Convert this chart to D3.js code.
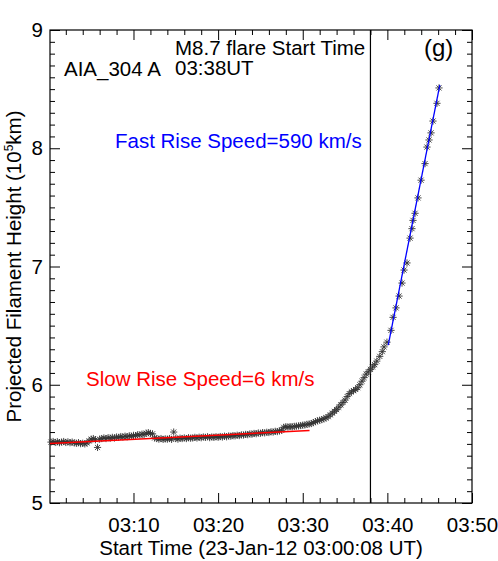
<!DOCTYPE html>
<html>
	<head>
		<title>Filament height</title>
		<script src="https://cdn.jsdelivr.net/npm/d3@7"></script>
		<style type="text/css">
			body {
				margin: 0;
				background: #fff;
			}
			text {
				font-family: "Liberation Sans", Arial, sans-serif;
				font-size: 20.5px;
			}
		</style>
	</head>
	<body>
		<script type="text/javascript">
			// minutes after 03:00 UT, height in 10^5 km
			var slowPhase = [
				[0.25,5.515],[0.5,5.52],[0.75,5.512],[1.0,5.518],[1.25,5.51],[1.5,5.515],[1.75,5.52],[2.0,5.512],
				[2.25,5.517],[2.5,5.51],[2.75,5.515],[3.0,5.508],[3.25,5.505],[3.5,5.51],[3.75,5.502],[4.0,5.505],
				[4.25,5.5],[4.5,5.508],[4.75,5.525],[5.0,5.54],[5.25,5.545],[5.5,5.535],[5.75,5.47],[6.0,5.54],
				[6.25,5.545],[6.5,5.55],[6.75,5.545],[7.0,5.552],[7.25,5.548],[7.5,5.555],[7.75,5.55],[8.0,5.558],
				[8.25,5.555],[8.5,5.562],[8.75,5.558],[9.0,5.565],[9.25,5.56],[9.5,5.568],[9.75,5.565],[10.0,5.572],
				[10.25,5.57],[10.5,5.578],[10.75,5.575],[11.0,5.582],[11.25,5.58],[11.5,5.59],[11.75,5.595],[12.0,5.588],
				[12.25,5.585],[12.5,5.55],[12.75,5.545],[13.0,5.54],[13.25,5.545],[13.5,5.538],[13.75,5.542],[14.0,5.54],
				[14.25,5.545],[14.5,5.538],[14.75,5.6],[15.0,5.545],[15.25,5.54],[15.5,5.548],[15.75,5.545],[16.0,5.55],
				[16.25,5.545],[16.5,5.552],[16.75,5.548],[17.0,5.55],[17.25,5.555],[17.5,5.55],[17.75,5.556],[18.0,5.552],
				[18.25,5.558],[18.5,5.555],[18.75,5.56],[19.0,5.553],[19.25,5.558],[19.5,5.555],[19.75,5.56],[20.0,5.556],
				[20.25,5.562],[20.5,5.558],[20.75,5.565],[21.0,5.56],[21.25,5.567],[21.5,5.565],[21.75,5.57],[22.0,5.568],
				[22.25,5.573],[22.5,5.57],[22.75,5.576],[23.0,5.575],[23.25,5.58],[23.5,5.578],[23.75,5.584],[24.0,5.582],
				[24.25,5.588],[24.5,5.586],[24.75,5.592],[25.0,5.59],[25.25,5.595],[25.5,5.593],[25.75,5.598],[26.0,5.596],
				[26.25,5.602],[26.5,5.6],[26.75,5.606],[27.0,5.604],[27.25,5.61],[27.5,5.615],[27.75,5.64],[28.0,5.645],
				[28.25,5.642],[28.5,5.646],[28.75,5.644],[29.0,5.648],[29.25,5.65],[29.5,5.652],[29.75,5.655],[30.0,5.658],
				[30.25,5.66],[30.5,5.665],[30.75,5.668],[31.0,5.672],[31.25,5.68],[31.5,5.688],[31.75,5.695],[32.0,5.7],
				[32.25,5.705],[32.5,5.712],[32.75,5.72],[33.0,5.73],[33.25,5.745],[33.5,5.76],[33.75,5.775],[34.0,5.79],
				[34.25,5.81],[34.5,5.83],[34.75,5.85],[35.0,5.87],[35.25,5.9],[35.5,5.925],[35.75,5.94],[36.0,5.95],
				[36.25,5.96],[36.5,5.975],[36.75,6.0],[37.0,6.03],[37.25,6.06],[37.5,6.09],[37.75,6.11]
			];
			var fastPhase = [
				[38.0,6.13],[38.25,6.15],[38.5,6.17],[38.75,6.2],[39.1,6.24],[39.4,6.28],[39.6,6.32],[39.95,6.36],
				[40.43,6.46],[40.67,6.57],[41.02,6.65],[41.38,6.75],[41.73,6.86],[41.97,6.97],[42.32,7.03],[42.68,7.24],
				[42.91,7.32],[43.03,7.39],[43.27,7.45],[43.62,7.58],[43.98,7.73],[44.45,7.87],[44.68,8.01],[44.92,8.07],
				[45.16,8.13],[45.39,8.23],[45.86,8.38],[46.1,8.51]
			];
			var slowFit = [[0.13, 5.503], [30.8, 5.613]];
			var fastFit = [[40.1, 6.336], [46.2, 8.535]];
			var flareStart = 38;

			var xDomain = [0.133, 50];
			var xMajor = [10, 20, 30, 40, 50];
			var xLabels = ["03:10", "03:20", "03:30", "03:40", "03:50"];
			var xMinor = [2, 4, 6, 8, 12, 14, 16, 18, 22, 24, 26, 28, 32, 34, 36, 38, 42, 44, 46, 48];
			var yDomain = [5, 9];
			var yMajor = [5, 6, 7, 8, 9];

			var w = 498;
			var h = 561;
			var plotL = 50, plotR = 472, plotT = 30, plotB = 503;

			var x = d3.scaleLinear().domain(xDomain).range([plotL, plotR]);
			var y = d3.scaleLinear().domain(yDomain).range([plotB, plotT]);
			var yMinor = d3.range(50, 91).map(function (d) { return d / 10; }).filter(function (d) { return yMajor.indexOf(d) < 0; });

			var svg = d3.select("body")
				.append("svg")
					.attr("width", w)
					.attr("height", h);

			svg.append("rect")
				.attr("width", w)
				.attr("height", h)
				.attr("fill", "#fff");

			var axes = [
				{ g: d3.axisBottom(x).tickValues(xMajor).tickSize(-10).tickPadding(14.5).tickFormat(function (d, i) { return xLabels[i]; }), t: [0, plotB] },
				{ g: d3.axisBottom(x).tickValues(xMinor).tickSize(-5).tickFormat(""), t: [0, plotB] },
				{ g: d3.axisTop(x).tickValues(xMajor).tickSize(-10).tickFormat(""), t: [0, plotT] },
				{ g: d3.axisTop(x).tickValues(xMinor).tickSize(-5).tickFormat(""), t: [0, plotT] },
				{ g: d3.axisLeft(y).tickValues(yMajor).tickSize(-10).tickPadding(7).tickFormat(d3.format("d")), t: [plotL, 0] },
				{ g: d3.axisLeft(y).tickValues(yMinor).tickSize(-5).tickFormat(""), t: [plotL, 0] },
				{ g: d3.axisRight(y).tickValues(yMajor).tickSize(-10).tickFormat(""), t: [plotR, 0] },
				{ g: d3.axisRight(y).tickValues(yMinor).tickSize(-5).tickFormat(""), t: [plotR, 0] }
			];
			axes.forEach(function (a) {
				var g = svg.append("g")
					.attr("transform", "translate(" + a.t + ")")
					.call(a.g.tickSizeOuter(0));
				g.select(".domain").remove();
				g.selectAll("line").attr("stroke", "#000").attr("stroke-width", 1);
				g.selectAll("text")
					.attr("fill", "#000")
					.style("font-family", "'Liberation Sans', Arial, sans-serif")
					.style("font-size", "20.5px");
			});

			svg.append("rect")
				.attr("x", plotL)
				.attr("y", plotT)
				.attr("width", plotR - plotL)
				.attr("height", plotB - plotT)
				.attr("fill", "none")
				.attr("stroke", "#000")
				.attr("stroke-width", 1.2);

			// flare start marker
			svg.append("line")
				.attr("x1", x(flareStart))
				.attr("x2", x(flareStart))
				.attr("y1", y(9))
				.attr("y2", y(5))
				.attr("stroke", "#000")
				.attr("stroke-width", 1.2);

			var star = function (r) {
				var a = r * Math.SQRT1_2;
				return "M0," + (-r) + "V" + r + "M" + (-r) + ",0H" + r +
					"M" + (-a) + "," + (-a) + "L" + a + "," + a +
					"M" + (-a) + "," + a + "L" + a + "," + (-a);
			};

			svg.append("g")
				.selectAll("path")
				.data(slowPhase.concat(fastPhase))
				.enter().append("path")
					.attr("d", star(3.6))
					.attr("transform", function (d) { return "translate(" + [x(d[0]), y(d[1])] + ")"; })
					.attr("fill", "none")
					.attr("stroke", "#333")
					.attr("stroke-width", 0.9);

			var line = d3.line()
				.x(function (d) { return x(d[0]); })
				.y(function (d) { return y(d[1]); });

			svg.append("path")
				.attr("d", line(slowFit))
				.attr("fill", "none")
				.attr("stroke", "#ff0000")
				.attr("stroke-width", 1.5);

			svg.append("path")
				.attr("d", line(fastFit))
				.attr("fill", "none")
				.attr("stroke", "#0000ff")
				.attr("stroke-width", 1.3);

			var label = function (txt, px, py, col, size) {
				return svg.append("text")
					.attr("x", px)
					.attr("y", py)
					.attr("fill", col || "#000")
					.style("font-size", (size || 20.5) + "px")
					.text(txt);
			};

			label("AIA_304 A", 64, 76);
			label("M8.7 flare Start Time", 175, 55);
			label("03:38UT", 175, 75);
			label("(g)", 424, 56, "#000", 24);
			label("Fast Rise Speed=590 km/s", 115, 148, "#0000ff");
			label("Slow Rise Speed=6 km/s", 86, 386, "#ff0000");

			svg.append("text")
				.attr("x", (plotL + plotR) / 2)
				.attr("y", 555)
				.attr("text-anchor", "middle")
				.text("Start Time (23-Jan-12 03:00:08 UT)");

			var yt = svg.append("text")
				.attr("transform", "translate(21," + (plotT + plotB) / 2 + ") rotate(-90)")
				.attr("text-anchor", "middle")
				.text("Projected Filament Height (10");
			yt.append("tspan")
				.attr("dy", -8)
				.style("font-size", "12px")
				.text("5");
			yt.append("tspan")
				.attr("dy", 8)
				.text("km)");
		</script>
	</body>
</html>
